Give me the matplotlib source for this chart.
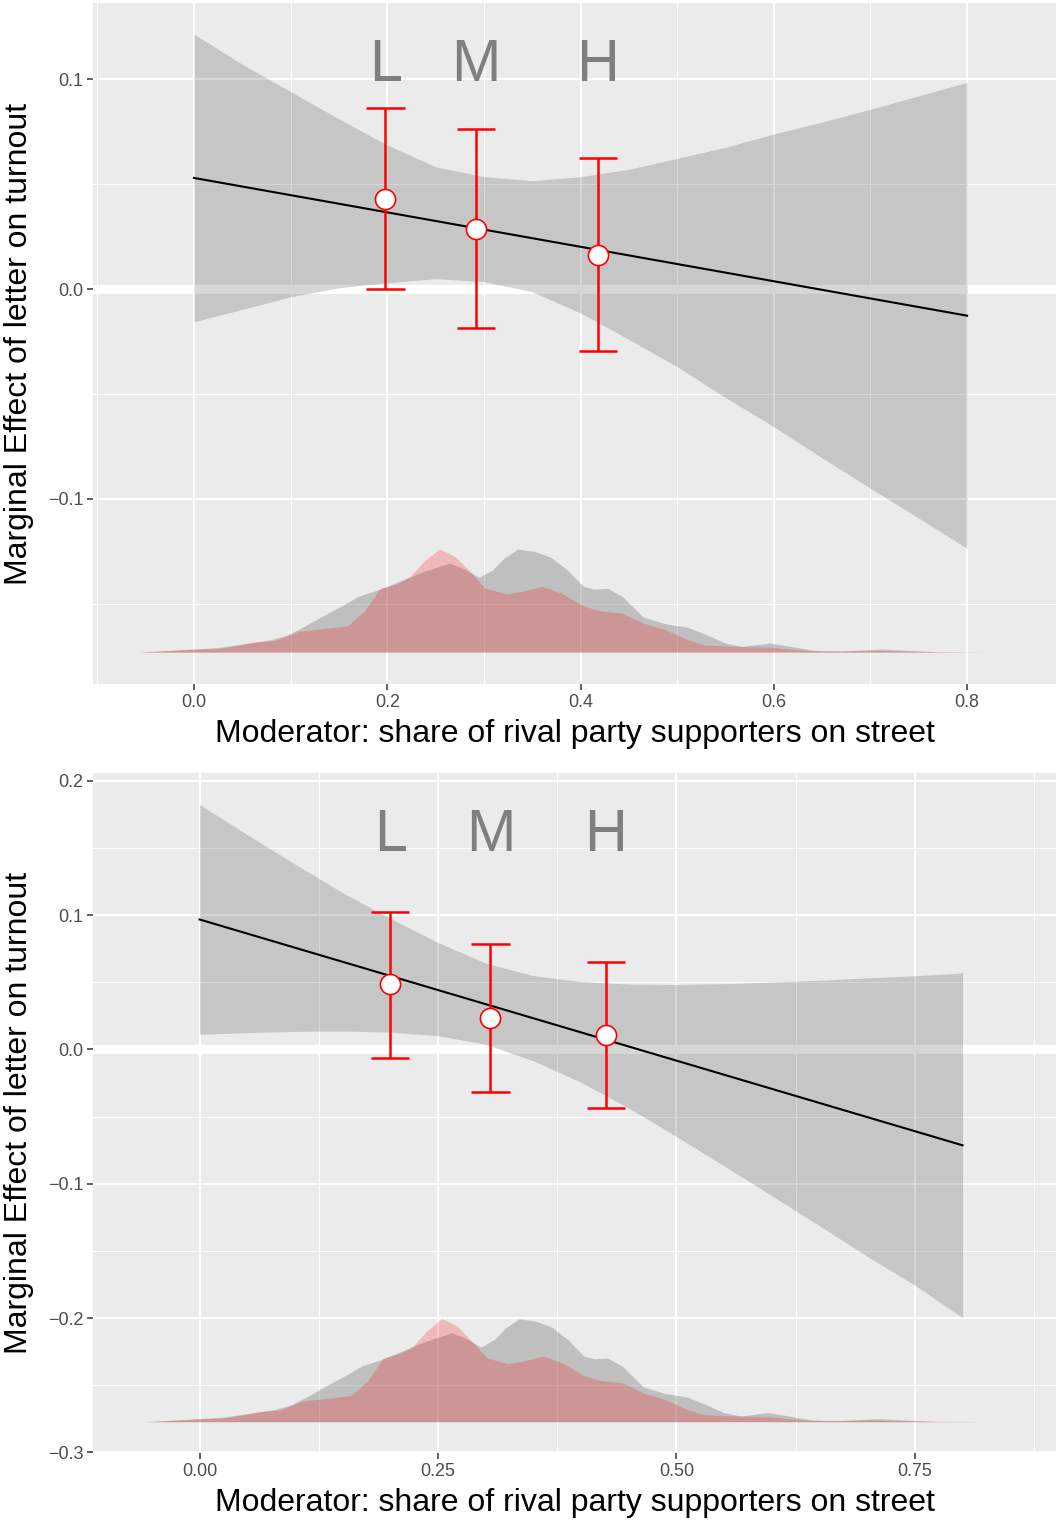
import numpy as np
import matplotlib.pyplot as plt
from matplotlib.ticker import FixedLocator, FuncFormatter

plt.rcParams['font.family'] = ['Liberation Sans', 'DejaVu Sans']

# moderator grid on which the marginal effect band was evaluated
grid = [0.00, 0.05, 0.10, 0.15, 0.20, 0.25, 0.30, 0.35, 0.40,
        0.45, 0.50, 0.55, 0.60, 0.65, 0.70, 0.75, 0.80]

# model 1: linear marginal effect and 95% band
top_line_x = [0.0, 0.8]
top_line_y = [0.0529, -0.0127]
top_upper = [0.1214, 0.1070, 0.0940, 0.0810, 0.0686, 0.0582, 0.0535, 0.0516, 0.0535,
             0.0570, 0.0622, 0.0675, 0.0738, 0.0795, 0.0856, 0.0920, 0.0984]
top_lower = [-0.0156, -0.0097, -0.0037, 0.0006, 0.0030, 0.0049, 0.0035, -0.0013, -0.0114,
             -0.0240, -0.0370, -0.0517, -0.0656, -0.0804, -0.0949, -0.1091, -0.1235]
# binned estimates (low / medium / high)
top_bin_x = [0.198, 0.292, 0.418]
top_bin_est = [0.0429, 0.0286, 0.0162]
top_bin_lo = [0.0000, -0.0186, -0.0295]
top_bin_hi = [0.0860, 0.0760, 0.0622]

# model 2
bot_line_x = [0.0, 0.8]
bot_line_y = [0.0967, -0.0714]
bot_upper = [0.1822, 0.1599, 0.1379, 0.1166, 0.0975, 0.0795, 0.0642, 0.0549, 0.0505,
             0.0486, 0.0483, 0.0489, 0.0501, 0.0515, 0.0532, 0.0548, 0.0569]
bot_lower = [0.0112, 0.0125, 0.0134, 0.0137, 0.0128, 0.0102, 0.0038, -0.0085, -0.0245,
             -0.0436, -0.0649, -0.0867, -0.1089, -0.1313, -0.1540, -0.1755, -0.1997]
bot_bin_x = [0.200, 0.305, 0.426]
bot_bin_est = [0.0483, 0.0230, 0.0109]
bot_bin_lo = [-0.0062, -0.0320, -0.0436]
bot_bin_hi = [0.1024, 0.0783, 0.0654]

bin_labels = ["L", "M", "H"]

# density of the moderator, control group (grey) and treated group (red)
dens_ctrl_x = [-0.057, -0.023, 0.000, 0.028, 0.057, 0.079, 0.097, 0.114, 0.131, 0.153,
               0.170, 0.193, 0.216, 0.238, 0.264, 0.278, 0.295, 0.309, 0.321, 0.335,
               0.352, 0.369, 0.386, 0.403, 0.414, 0.428, 0.443, 0.465, 0.488, 0.511,
               0.533, 0.550, 0.567, 0.596, 0.618, 0.641, 0.670, 0.712, 0.738, 0.772, 0.806]
dens_ctrl_y = [0.00, 0.07, 0.11, 0.20, 0.36, 0.49, 0.69, 1.03, 1.40, 1.85,
               2.23, 2.52, 2.89, 3.23, 3.56, 3.36, 2.99, 3.29, 3.76, 4.12,
               4.03, 3.80, 3.29, 2.63, 2.52, 2.55, 2.23, 1.40, 1.13, 0.99,
               0.65, 0.36, 0.23, 0.36, 0.23, 0.07, 0.04, 0.12, 0.07, 0.01, 0.00]
dens_treat_x = [-0.057, -0.023, 0.000, 0.023, 0.045, 0.062, 0.085, 0.108, 0.130, 0.159,
                0.176, 0.193, 0.210, 0.224, 0.238, 0.254, 0.270, 0.284, 0.301, 0.323,
                0.340, 0.360, 0.380, 0.403, 0.420, 0.443, 0.465, 0.488, 0.511, 0.528,
                0.556, 0.596, 0.624, 0.652, 0.704, 0.749, 0.828]
dens_treat_y = [0.00, 0.07, 0.13, 0.13, 0.27, 0.40, 0.47, 0.83, 0.92, 1.05,
                1.63, 2.56, 2.72, 3.03, 3.63, 4.13, 3.83, 3.29, 2.56, 2.33,
                2.43, 2.63, 2.36, 1.85, 1.65, 1.56, 1.16, 0.89, 0.49, 0.29,
                0.23, 0.20, 0.09, 0.04, 0.07, 0.03, 0.00]

x_label = "Moderator: share of rival party supporters on street"
y_label = "Marginal Effect of letter on turnout"

fig = plt.figure(figsize=(10.56, 15.2), dpi=100)
W, H = 1056, 1520


def fmt(decimals):
    return FuncFormatter(lambda v, pos: f"{v:.{decimals}f}".replace("-", "\u2212"))


def panel(box, xlim, ylim, xmaj, xmin, ymaj, ymin, xdec,
          upper, lower, line_x, line_y, bx, best, blo, bhi,
          dens_base, dens_scale, label_y):
    l, t, r, b = box
    ax = fig.add_axes([l / W, 1 - b / H, (r - l) / W, (b - t) / H])
    ax.set_facecolor('#EBEBEB')
    for s in ax.spines.values():
        s.set_visible(False)
    ax.set_xlim(*xlim)
    ax.set_ylim(*ylim)
    ax.xaxis.set_major_locator(FixedLocator(xmaj))
    ax.xaxis.set_minor_locator(FixedLocator(xmin))
    ax.yaxis.set_major_locator(FixedLocator(ymaj))
    ax.yaxis.set_minor_locator(FixedLocator(ymin))
    ax.xaxis.set_major_formatter(fmt(xdec))
    ax.yaxis.set_major_formatter(fmt(1))
    ax.grid(which='major', color='white', lw=1.5)
    ax.grid(which='minor', color='white', lw=0.75)
    ax.set_axisbelow(True)
    ax.tick_params(which='major', length=4, width=1.1, color='#333333',
                   labelcolor='#4D4D4D', labelsize=13, pad=3)
    ax.tick_params(which='minor', length=0)

    ax.axhline(0, color='white', lw=6.5, zorder=1)
    ax.fill_between(grid, lower, upper, color='#333333', alpha=0.2, lw=0, zorder=2)

    base = dens_base
    ax.fill_between(dens_ctrl_x, base, base + np.array(dens_ctrl_y) * dens_scale,
                    color='#7F7F7F', alpha=0.4, lw=0, zorder=2)
    ax.fill_between(dens_treat_x, base, base + np.array(dens_treat_y) * dens_scale,
                    color='red', alpha=0.21, lw=0, zorder=2)

    ax.plot(line_x, line_y, color='black', lw=1.5, zorder=3)

    cap = 0.02
    ax.vlines(bx, blo, bhi, color='red', lw=1.8, zorder=4)
    ax.hlines(blo, np.array(bx) - cap, np.array(bx) + cap, color='red', lw=1.8, zorder=4)
    ax.hlines(bhi, np.array(bx) - cap, np.array(bx) + cap, color='red', lw=1.8, zorder=4)
    ax.plot(bx, best, 'o', ms=14.5, mfc='white', mec='red', mew=1.2, zorder=5)

    for xi, lab in zip(bx, bin_labels):
        ax.text(xi, label_y, lab, color='#7F7F7F', fontsize=42.7,
                ha='center', va='baseline', zorder=6)

    ax.set_xlabel(x_label, fontsize=23, color='black')
    ax.set_ylabel(y_label, fontsize=23, color='black')
    ax.xaxis.set_label_coords(0.5, -0.052)
    ax.yaxis.set_label_coords(-0.061, 0.5)
    return ax


panel((93, 3, 1056, 684), (-0.1045, 0.892), (-0.1881, 0.1362),
      [0.0, 0.2, 0.4, 0.6, 0.8], [-0.1, 0.1, 0.3, 0.5, 0.7],
      [-0.1, 0.0, 0.1], [-0.15, -0.05, 0.05], 1,
      top_upper, top_lower, top_line_x, top_line_y,
      top_bin_x, top_bin_est, top_bin_lo, top_bin_hi,
      -0.1729, 0.011905, 0.099)

panel((93, 773, 1056, 1453), (-0.1117, 0.898), (-0.3004, 0.2057),
      [0.0, 0.25, 0.5, 0.75], [0.125, 0.375, 0.625, 0.875],
      [-0.3, -0.2, -0.1, 0.0, 0.1, 0.2], [-0.25, -0.15, -0.05, 0.05, 0.15], 2,
      bot_upper, bot_lower, bot_line_x, bot_line_y,
      bot_bin_x, bot_bin_est, bot_bin_lo, bot_bin_hi,
      -0.2771, 0.018587, 0.1475)

fig.savefig('out.png', dpi=100, facecolor='white')
